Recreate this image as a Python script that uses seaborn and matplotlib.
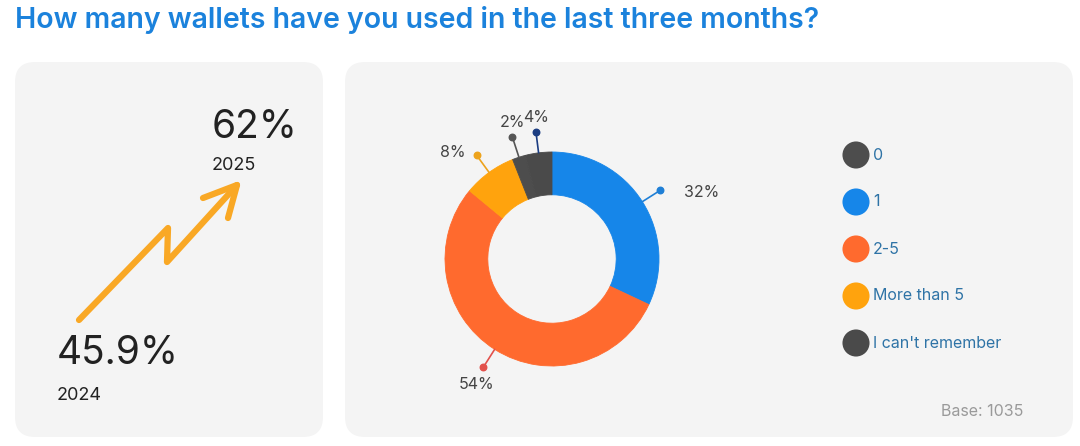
import numpy as np
import matplotlib
matplotlib.use("Agg")
import matplotlib.pyplot as plt
from matplotlib.patches import FancyBboxPatch
import pandas as pd
import seaborn as sns

TITLE = "How many wallets have you used in the last three months?"

# wedges, clockwise from 12 o'clock
WEDGE_CATS = ["1", "2-5", "More than 5", "0", "I can't remember"]
WEDGE_PCT = [32, 54, 8, 2, 4]

LEGEND_CATS = ["0", "1", "2-5", "More than 5", "I can't remember"]

YEARS = ["2024", "2025"]
YEAR_SHARE = [45.9, 62]

BASE_N = 1035

COLORS = {
    "0": "#4d4d4d",
    "1": "#1686e9",
    "2-5": "#ff6a2e",
    "More than 5": "#ffa30d",
    "I can't remember": "#4a4a4a",
}
LEADER_COLORS = {
    "0": "#555555",
    "1": "#1f7fd6",
    "2-5": "#e2514c",
    "More than 5": "#eda31c",
    "I can't remember": "#1b3d82",
}

W, H = 1080, 446
PANEL = "#f4f4f4"
TEXT_DARK = "#222222"
LEGEND_TEXT = "#2e73a6"
TITLE_BLUE = "#1b82dc"


def style() -> None:
    sns.set_theme(style="white")
    plt.rcParams.update({"font.family": ["Inter", "DejaVu Sans"], "savefig.dpi": 100})


def draw_background(ax) -> None:
    ax.set_xlim(0, W)
    ax.set_ylim(H, 0)
    ax.axis("off")
    for x0, x1 in [(15, 323), (345, 1073)]:
        ax.add_patch(
            FancyBboxPatch(
                (x0 + 20, 62 + 20), x1 - x0 - 40, 375 - 40,
                boxstyle="round,pad=20", fc=PANEL, ec="none",
            )
        )
    ax.text(15, 20, TITLE, color=TITLE_BLUE, fontsize=20.5, fontweight="semibold",
            va="center", ha="left")


def draw_trend(ax) -> None:
    # decorative zig-zag arrow from 2024 to 2025
    ax.plot([79, 168, 167, 237], [320, 228, 262, 185], color="#f9a825", lw=4.5,
            solid_capstyle="round", solid_joinstyle="round")
    ax.plot([203, 237, 228], [198, 185, 218], color="#f9a825", lw=4.5,
            solid_capstyle="round", solid_joinstyle="round")
    spots = [(57, 354, 395), (212, 127, 165)]
    for (x, yv, yy), year, share in zip(spots, YEARS, YEAR_SHARE):
        ax.text(x, yv, f"{share:g}%", fontsize=28, color=TEXT_DARK, va="center", ha="left")
        ax.text(x, yy, year, fontsize=13, color=TEXT_DARK, va="center", ha="left")


def draw_donut(fig) -> None:
    cx, cy, r, box = 552, 259, 107, 320
    ax = fig.add_axes([(cx - box / 2) / W, (H - cy - box / 2) / H, box / W, box / H])
    ax.set_facecolor("none")
    lim = box / 2 / r
    df = pd.DataFrame({"cat": WEDGE_CATS, "pct": WEDGE_PCT})
    wedges, _ = ax.pie(
        df["pct"], colors=[COLORS[c] for c in df["cat"]], startangle=90,
        counterclock=False, radius=1, wedgeprops=dict(width=0.4),
    )
    ax.set_xlim(-lim, lim)
    ax.set_ylim(-lim, lim)
    ax.set_aspect("equal")
    ax.axis("off")
    for w, cat, pct in zip(wedges, df["cat"], df["pct"]):
        w.set_edgecolor(w.get_facecolor())
        w.set_linewidth(0.6)
        ang = np.deg2rad((w.theta1 + w.theta2) / 2)
        ca, sa = np.cos(ang), np.sin(ang)
        col = LEADER_COLORS[cat]
        ax.plot([ca, 1.2 * ca], [sa, 1.2 * sa], color=col, lw=1.2)
        ax.scatter([1.2 * ca], [1.2 * sa], s=22, color=col, zorder=3)
        label = f"{pct}%"
        if ca > 0.6:
            ax.text(1.2 * ca + 0.22, 1.2 * sa - 0.02, label, ha="left", va="center",
                    fontsize=11.5, color="#444444")
        elif ca < -0.5 and sa > 0:
            ax.text(1.2 * ca - 0.1, 1.2 * sa + 0.02, label, ha="right", va="center",
                    fontsize=11.5, color="#444444")
        elif sa < 0:
            ax.text(1.2 * ca - 0.06, 1.2 * sa - 0.16, label, ha="center", va="center",
                    fontsize=11.5, color="#444444")
        else:
            ax.text(1.2 * ca, 1.2 * sa + 0.13, label, ha="center", va="center",
                    fontsize=11.5, color="#444444")


def draw_legend(ax) -> None:
    leg = pd.DataFrame({"cat": LEGEND_CATS})
    leg["x"] = 856
    leg["y"] = 155 + 47 * np.arange(len(leg))
    sns.scatterplot(data=leg, x="x", y="y", hue="cat", palette=COLORS, s=380,
                    edgecolor="none", legend=False, ax=ax)
    for row in leg.itertuples():
        ax.text(row.x + 17, row.y, row.cat, fontsize=11.5, color=LEGEND_TEXT,
                va="center", ha="left")
    ax.set_xlim(0, W)
    ax.set_ylim(H, 0)
    ax.axis("off")


def main() -> None:
    style()
    fig = plt.figure(figsize=(W / 100, H / 100), dpi=100)
    fig.patch.set_facecolor("white")
    ax = fig.add_axes([0, 0, 1, 1])
    draw_background(ax)
    draw_trend(ax)
    draw_legend(ax)
    ax.text(1023, 412, f"Base: {BASE_N}", fontsize=11.5, color="#9a9a9a",
            ha="right", va="center")
    draw_donut(fig)
    fig.savefig("out.png", dpi=100)
    plt.close(fig)


if __name__ == "__main__":
    main()
